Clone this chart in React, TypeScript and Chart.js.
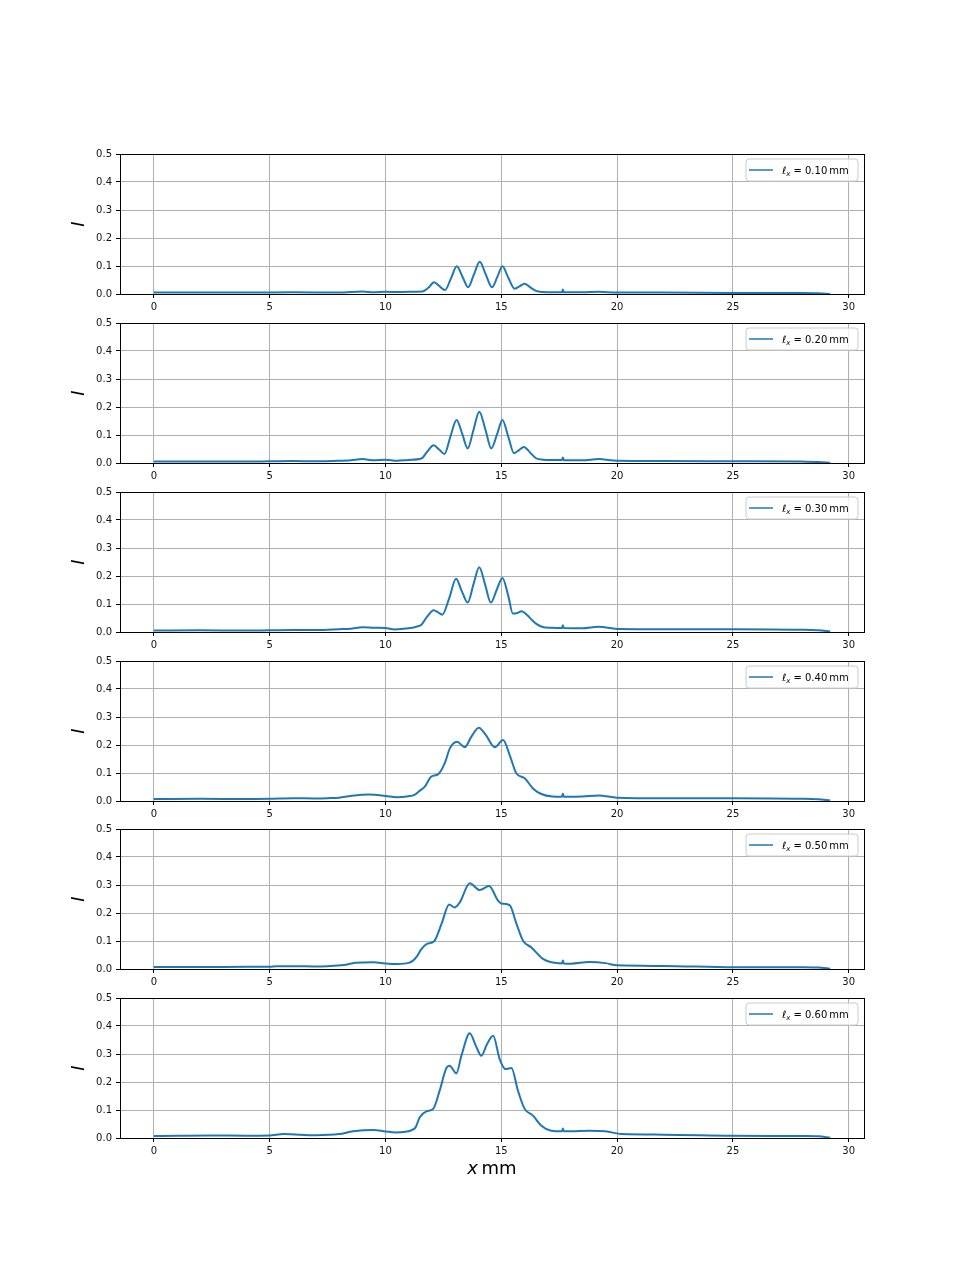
import React, { useEffect, useRef } from "react";
import { Chart, registerables } from "chart.js";

Chart.register(...registerables);

// ---------- data ----------
const X_TICKS = [0, 5, 10, 15, 20, 25, 30];
const Y_TICKS = [0, 0.1, 0.2, 0.3, 0.4, 0.5];
const LEGEND_VALUES = ["0.10", "0.20", "0.30", "0.40", "0.50", "0.60"];

const X1 = [0, 2, 4, 6, 8, 9, 9.5, 10, 10.5, 11, 11.6, 11.85, 12.1, 12.33, 12.57, 12.83, 13.08, 13.33, 13.57, 13.82, 14.07, 14.33, 14.6, 14.83, 15.05, 15.3, 15.58, 15.8, 16.0, 16.25, 16.5, 16.8, 17.2, 17.62, 17.66, 17.7, 18.5, 19.2, 20, 22, 25, 28, 28.7, 29.2];
const Y1 = [0.005, 0.005, 0.005, 0.006, 0.005, 0.009, 0.006, 0.008, 0.007, 0.008, 0.009, 0.022, 0.042, 0.028, 0.014, 0.056, 0.099, 0.061, 0.024, 0.07, 0.115, 0.07, 0.024, 0.061, 0.099, 0.059, 0.019, 0.028, 0.037, 0.024, 0.011, 0.007, 0.006, 0.006, 0.016, 0.006, 0.006, 0.008, 0.005, 0.005, 0.004, 0.004, 0.003, 0.0];

const X2 = [0, 2, 4, 5, 6, 7, 8, 8.5, 9, 9.5, 10, 10.5, 11, 11.55, 11.8, 12.08, 12.32, 12.55, 12.8, 13.07, 13.32, 13.55, 13.8, 14.05, 14.32, 14.57, 14.82, 15.05, 15.3, 15.55, 15.77, 15.97, 16.25, 16.5, 16.8, 17.2, 17.62, 17.66, 17.7, 18.5, 19.2, 20, 22, 25, 28, 28.7, 29.2];
const Y2 = [0.005, 0.005, 0.005, 0.006, 0.007, 0.006, 0.008, 0.01, 0.014, 0.01, 0.012, 0.008, 0.011, 0.016, 0.04, 0.063, 0.048, 0.032, 0.093, 0.154, 0.103, 0.052, 0.118, 0.183, 0.118, 0.052, 0.103, 0.154, 0.095, 0.035, 0.046, 0.057, 0.037, 0.017, 0.012, 0.011, 0.011, 0.02, 0.01, 0.01, 0.014, 0.008, 0.007, 0.006, 0.005, 0.004, 0.001];

const X3 = [0, 2, 4, 5, 6, 7, 8, 8.5, 9, 9.5, 10, 10.4, 11, 11.3, 11.55, 11.8, 12.08, 12.28, 12.45, 12.75, 13.05, 13.3, 13.55, 13.8, 14.05, 14.3, 14.55, 14.8, 15.05, 15.3, 15.5, 15.7, 15.88, 16.1, 16.3, 16.5, 16.75, 17.2, 17.62, 17.66, 17.7, 18.5, 19.2, 20, 22, 25, 28, 28.7, 29.2];
const Y3 = [0.005, 0.006, 0.005, 0.006, 0.007, 0.007, 0.01, 0.012, 0.017, 0.015, 0.014, 0.009, 0.013, 0.018, 0.026, 0.055, 0.078, 0.07, 0.062, 0.12, 0.19, 0.145, 0.105, 0.17, 0.231, 0.17, 0.105, 0.15, 0.193, 0.13, 0.066, 0.068, 0.074, 0.062, 0.045, 0.03, 0.019, 0.015, 0.014, 0.024, 0.014, 0.013, 0.019, 0.011, 0.01, 0.01, 0.008, 0.006, 0.002];

const X4 = [0, 2, 4, 5, 6, 7, 7.5, 8, 8.5, 9.3, 10, 10.5, 11, 11.25, 11.5, 11.7, 11.98, 12.27, 12.56, 12.78, 13.09, 13.42, 13.71, 14.03, 14.33, 14.72, 15.08, 15.36, 15.65, 16.01, 16.37, 16.73, 17.2, 17.62, 17.66, 17.7, 18.5, 19.2, 20, 22, 25, 28, 28.7, 29.2];
const Y4 = [0.007, 0.008, 0.007, 0.008, 0.01, 0.009, 0.01, 0.012, 0.018, 0.023, 0.018, 0.013, 0.017, 0.022, 0.038, 0.051, 0.087, 0.095, 0.135, 0.188, 0.212, 0.192, 0.23, 0.262, 0.236, 0.192, 0.218, 0.165, 0.099, 0.081, 0.045, 0.025, 0.016, 0.015, 0.026, 0.015, 0.016, 0.02, 0.012, 0.01, 0.01, 0.008, 0.006, 0.002];

const X5 = [0, 2, 4, 5, 5.3, 6, 7, 7.5, 8.2, 8.7, 9.5, 10, 10.5, 11.0, 11.19, 11.35, 11.55, 11.77, 12.1, 12.42, 12.75, 12.99, 13.21, 13.64, 14.07, 14.47, 14.86, 15.0, 15.36, 15.65, 15.94, 16.3, 16.8, 17.16, 17.62, 17.66, 17.7, 18, 18.8, 19.5, 20, 22, 25, 28, 28.7, 29.2];
const Y5 = [0.007, 0.007, 0.008, 0.008, 0.01, 0.01, 0.009, 0.01, 0.014, 0.022, 0.024, 0.02, 0.018, 0.022, 0.03, 0.044, 0.071, 0.089, 0.099, 0.161, 0.23, 0.22, 0.238, 0.306, 0.282, 0.296, 0.244, 0.234, 0.228, 0.163, 0.101, 0.077, 0.036, 0.024, 0.02, 0.03, 0.02, 0.019, 0.025, 0.021, 0.013, 0.011, 0.006, 0.006, 0.005, 0.001];

const X6 = [0, 1, 2.4, 4, 5, 5.6, 7, 8, 8.6, 9.5, 10, 10.5, 11, 11.15, 11.3, 11.48, 11.77, 12.06, 12.34, 12.63, 12.77, 13.06, 13.28, 13.64, 13.9, 14.14, 14.39, 14.65, 14.93, 15.19, 15.44, 15.72, 16.01, 16.37, 16.73, 17.16, 17.62, 17.66, 17.7, 18, 18.8, 19.5, 20.2, 22, 25, 28, 28.7, 29.2];
const Y6 = [0.007, 0.008, 0.009, 0.008, 0.009, 0.014, 0.01, 0.014, 0.024, 0.029, 0.023, 0.02, 0.024, 0.029, 0.038, 0.074, 0.095, 0.104, 0.169, 0.25, 0.258, 0.231, 0.294, 0.374, 0.33, 0.294, 0.336, 0.365, 0.282, 0.246, 0.25, 0.169, 0.104, 0.08, 0.044, 0.026, 0.024, 0.034, 0.024, 0.024, 0.026, 0.024, 0.014, 0.012, 0.008, 0.007, 0.006, 0.001];

const SERIES_X = [X1, X2, X3, X4, X5, X6];
const SERIES_Y = [Y1, Y2, Y3, Y4, Y5, Y6];

// ---------- layout / style ----------
const FONT = '"DejaVu Sans", sans-serif';
const BLUE = "#1f77b4";
const AXES_TOPS = [154, 323, 492, 661, 829, 998];
const AXES_H = 140;
const PAD_TOP = 12;

const decorPlugin = {
  id: "panelDecor",
  afterDatasetsDraw(chart: any, _args: any, opts: any) {
    const { ctx, chartArea: a } = chart;
    ctx.save();

    // legend box (upper right)
    const bw = 112;
    const bh = 22;
    const bx = a.right - 6 - bw;
    const by = a.top + 5;
    const r = 3;
    ctx.beginPath();
    ctx.moveTo(bx + r, by);
    ctx.lineTo(bx + bw - r, by);
    ctx.quadraticCurveTo(bx + bw, by, bx + bw, by + r);
    ctx.lineTo(bx + bw, by + bh - r);
    ctx.quadraticCurveTo(bx + bw, by + bh, bx + bw - r, by + bh);
    ctx.lineTo(bx + r, by + bh);
    ctx.quadraticCurveTo(bx, by + bh, bx, by + bh - r);
    ctx.lineTo(bx, by + r);
    ctx.quadraticCurveTo(bx, by, bx + r, by);
    ctx.closePath();
    ctx.fillStyle = "rgba(255,255,255,0.8)";
    ctx.fill();
    ctx.strokeStyle = "#cccccc";
    ctx.lineWidth = 1;
    ctx.stroke();

    ctx.strokeStyle = BLUE;
    ctx.lineWidth = 1.5;
    ctx.beginPath();
    ctx.moveTo(bx + 3, by + 11);
    ctx.lineTo(bx + 27, by + 11);
    ctx.stroke();

    let tx = bx + 36;
    const ty = by + 15;
    ctx.fillStyle = "#000";
    ctx.textAlign = "left";
    ctx.textBaseline = "alphabetic";
    ctx.font = `italic 10px ${FONT}`;
    ctx.fillText("ℓ", tx, ty);
    tx += ctx.measureText("ℓ").width;
    ctx.font = `italic 7px ${FONT}`;
    ctx.fillText("x", tx, ty + 2);
    tx += ctx.measureText("x").width;
    ctx.font = `10px ${FONT}`;
    ctx.fillText(` = ${opts.value}\u2009mm`, tx, ty);

    // spines
    ctx.strokeStyle = "#000";
    ctx.lineWidth = 1;
    ctx.strokeRect(a.left + 0.5, a.top + 0.5, a.right - a.left, a.bottom - a.top);

    // y label
    ctx.save();
    ctx.translate(a.left - 41, (a.top + a.bottom) / 2);
    ctx.rotate(-Math.PI / 2);
    ctx.font = `italic 18px ${FONT}`;
    ctx.textAlign = "center";
    ctx.textBaseline = "middle";
    ctx.fillText("I", 0, 0);
    ctx.restore();

    // x label
    if (opts.showX) {
      ctx.font = `italic 18px ${FONT}`;
      const w1 = ctx.measureText("x").width;
      ctx.font = `18px ${FONT}`;
      const w2 = ctx.measureText("\u2009mm").width;
      let sx = (a.left + a.right) / 2 - (w1 + w2) / 2;
      const sy = a.bottom + 36;
      ctx.textAlign = "left";
      ctx.textBaseline = "alphabetic";
      ctx.font = `italic 18px ${FONT}`;
      ctx.fillText("x", sx, sy);
      sx += w1;
      ctx.font = `18px ${FONT}`;
      ctx.fillText("\u2009mm", sx, sy);
    }
    ctx.restore();
  },
};

export default function App() {
  const refs = useRef<(HTMLCanvasElement | null)[]>([]);

  useEffect(() => {
    const charts = SERIES_Y.map((ys, i) => {
      const canvas = refs.current[i] as HTMLCanvasElement;
      const last = i === SERIES_Y.length - 1;
      const xh = last ? 50 : 30;
      return new Chart(canvas, {
        type: "line",
        data: {
          datasets: [
            {
              data: SERIES_X[i].map((x, k) => ({ x, y: ys[k] })),
              borderColor: BLUE,
              borderWidth: 2,
              pointRadius: 0,
              fill: false,
              cubicInterpolationMode: "monotone",
            } as any,
          ],
        },
        options: {
          responsive: false,
          animation: false,
          devicePixelRatio: 1,
          layout: { padding: { left: 0, right: 96, top: PAD_TOP, bottom: 0 } },
          plugins: {
            legend: { display: false },
            tooltip: { enabled: false },
            panelDecor: { value: LEGEND_VALUES[i], showX: last },
          } as any,
          scales: {
            x: {
              type: "linear",
              min: -1.46,
              max: 30.66,
              afterBuildTicks: (s: any) => {
                s.ticks = X_TICKS.map((v) => ({ value: v }));
              },
              afterFit: (s: any) => {
                s.height = xh;
              },
              grid: { color: "#b0b0b0", lineWidth: 1, tickColor: "#000", tickLength: 4, tickWidth: 1 },
              border: { display: false },
              ticks: {
                font: { family: FONT, size: 10 },
                color: "#111",
                padding: 3,
                maxRotation: 0,
                autoSkip: false,
                callback: (v: any) => String(v),
              },
            },
            y: {
              type: "linear",
              min: 0,
              max: 0.5,
              afterBuildTicks: (s: any) => {
                s.ticks = Y_TICKS.map((v) => ({ value: v }));
              },
              afterFit: (s: any) => {
                s.width = 120;
              },
              grid: { color: "#b0b0b0", lineWidth: 1, tickColor: "#000", tickLength: 4, tickWidth: 1 },
              border: { display: false },
              ticks: {
                font: { family: FONT, size: 10 },
                color: "#111",
                padding: 4,
                autoSkip: false,
                callback: (v: any) => Number(v).toFixed(1),
              },
            },
          },
        } as any,
        plugins: [decorPlugin],
      });
    });
    return () => charts.forEach((c) => c.destroy());
  }, []);

  return (
    <div style={{ position: "absolute", left: 0, top: 0, width: 960, height: 1280, background: "#fff" }}>
      {SERIES_Y.map((_, i) => {
        const h = PAD_TOP + AXES_H + (i === SERIES_Y.length - 1 ? 50 : 30);
        return (
          <canvas
            key={i}
            ref={(el) => {
              refs.current[i] = el;
            }}
            width={960}
            height={h}
            style={{ position: "absolute", left: 0, top: AXES_TOPS[i] - PAD_TOP, width: 960, height: h }}
          />
        );
      })}
    </div>
  );
}
